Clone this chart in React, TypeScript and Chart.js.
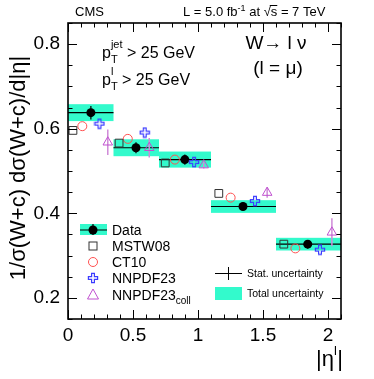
import React, { useEffect, useRef } from "react";
import { Chart, registerables } from "chart.js";

Chart.register(...registerables);

// ---- data ----
const binLow = [0, 0.35, 0.7, 1.1, 1.6];
const binHigh = [0.35, 0.7, 1.1, 1.6, 2.1];
const dataEta = [0.176, 0.523, 0.899, 1.346, 1.844];
const dataVal = [0.638, 0.555, 0.527, 0.416, 0.327];
const statErr = [0.016, 0.013, 0.012, 0.010, 0.010];
const totErr = [0.020, 0.020, 0.019, 0.015, 0.015];

const mstwEta = [0.038, 0.393, 0.748, 1.16, 1.66];
const mstwVal = [0.596, 0.566, 0.519, 0.447, 0.327];
const ct10Eta = [0.11, 0.46, 0.822, 1.251, 1.749];
const ct10Val = [0.606, 0.576, 0.527, 0.437, 0.317];
const nnpdfEta = [0.242, 0.59, 0.97, 1.438, 1.938];
const nnpdfVal = [0.612, 0.591, 0.521, 0.429, 0.314];
const collEta = [0.306, 0.625, 1.044, 1.532, 2.03];
const collVal = [0.568, 0.555, 0.514, 0.449, 0.355];
const collErr = [0.030, 0.023, 0.008, 0.012, 0.033];

const xTicks = [0, 0.5, 1, 1.5, 2];
const yTicks = [0.2, 0.4, 0.6, 0.8];
const xRange = [0, 2.1];
const yRange = [0.15, 0.85];

// ---- styles ----
const BOX = "rgb(51,250,204)";
const RED = "#ff5050";
const BLUE = "#3c3cff";
const MAG = "#c050d0";
const MAG_ERR = "#cf8ad8";
const GRAY = "#333333";
const FONT = "'Liberation Sans', Arial, Helvetica, sans-serif";

const PA = 1.4, PB = 4.6;

function plusPath(g: CanvasRenderingContext2D, cx: number, cy: number) {
  const a = PA, b = PB;
  g.beginPath();
  g.moveTo(cx - a, cy - b);
  g.lineTo(cx + a, cy - b);
  g.lineTo(cx + a, cy - a);
  g.lineTo(cx + b, cy - a);
  g.lineTo(cx + b, cy + a);
  g.lineTo(cx + a, cy + a);
  g.lineTo(cx + a, cy + b);
  g.lineTo(cx - a, cy + b);
  g.lineTo(cx - a, cy + a);
  g.lineTo(cx - b, cy + a);
  g.lineTo(cx - b, cy - a);
  g.lineTo(cx - a, cy - a);
  g.closePath();
}

function makePlus(color: string): HTMLCanvasElement {
  const c = document.createElement("canvas");
  c.width = 12;
  c.height = 12;
  const g = c.getContext("2d")!;
  g.strokeStyle = color;
  g.lineWidth = 1.2;
  plusPath(g, 6, 6);
  g.stroke();
  return c;
}

function drawPlus(ctx: CanvasRenderingContext2D, cx: number, cy: number, color: string) {
  ctx.save();
  ctx.strokeStyle = color;
  ctx.lineWidth = 1.2;
  plusPath(ctx, cx, cy);
  ctx.stroke();
  ctx.restore();
}

const hepPlugin = {
  id: "hep",
  beforeDatasetsDraw(chart: any) {
    const { ctx, chartArea: a, scales } = chart;
    const x = scales.x, y = scales.y;
    ctx.save();
    ctx.beginPath();
    ctx.rect(a.left, a.top, a.right - a.left, a.bottom - a.top);
    ctx.clip();
    // total uncertainty boxes
    ctx.fillStyle = BOX;
    for (let i = 0; i < binLow.length; i++) {
      const x0 = x.getPixelForValue(binLow[i]);
      const x1 = x.getPixelForValue(binHigh[i]);
      const y0 = y.getPixelForValue(dataVal[i] + totErr[i]);
      const y1 = y.getPixelForValue(dataVal[i] - totErr[i]);
      ctx.fillRect(x0, y0, x1 - x0, y1 - y0);
    }
    // horizontal bin lines + stat errors
    ctx.strokeStyle = "#000";
    ctx.lineWidth = 1.2;
    for (let i = 0; i < binLow.length; i++) {
      const x0 = x.getPixelForValue(binLow[i]);
      const x1 = x.getPixelForValue(binHigh[i]);
      const yv = y.getPixelForValue(dataVal[i]);
      ctx.beginPath();
      ctx.moveTo(x0, yv);
      ctx.lineTo(x1, yv);
      ctx.stroke();
      const xp = x.getPixelForValue(dataEta[i]);
      ctx.beginPath();
      ctx.moveTo(xp, y.getPixelForValue(dataVal[i] + statErr[i]));
      ctx.lineTo(xp, y.getPixelForValue(dataVal[i] - statErr[i]));
      ctx.stroke();
    }
    // NNPDF23coll error bars
    ctx.strokeStyle = MAG_ERR;
    ctx.lineWidth = 1.5;
    for (let i = 0; i < collEta.length; i++) {
      const xp = x.getPixelForValue(collEta[i]);
      ctx.beginPath();
      ctx.moveTo(xp, y.getPixelForValue(collVal[i] + collErr[i]));
      ctx.lineTo(xp, y.getPixelForValue(collVal[i] - collErr[i]));
      ctx.stroke();
    }
    ctx.restore();
  },
  afterDatasetsDraw(chart: any) {
    const { ctx, chartArea: a, scales } = chart;
    const x = scales.x, y = scales.y;
    ctx.save();
    // ticks
    ctx.strokeStyle = "#000";
    ctx.lineWidth = 1;
    const major = 9, minor = 4.5;
    for (let k = 0; k <= 21; k++) {
      const v = k * 0.1;
      const isMajor = k % 5 === 0;
      const len = isMajor ? major : minor;
      const px = Math.round(x.getPixelForValue(v)) + 0.5;
      ctx.beginPath();
      ctx.moveTo(px, a.bottom);
      ctx.lineTo(px, a.bottom - len);
      ctx.moveTo(px, a.top);
      ctx.lineTo(px, a.top + len);
      ctx.stroke();
    }
    for (let k = 3; k <= 17; k++) {
      const v = k * 0.05;
      const isMajor = k % 4 === 0;
      const len = isMajor ? major : minor;
      const py = Math.round(y.getPixelForValue(v)) + 0.5;
      ctx.beginPath();
      ctx.moveTo(a.left, py);
      ctx.lineTo(a.left + len, py);
      ctx.moveTo(a.right, py);
      ctx.lineTo(a.right - len, py);
      ctx.stroke();
    }
    // frame
    ctx.lineWidth = 1.6;
    ctx.strokeRect(a.left, a.top, a.right - a.left, a.bottom - a.top);

    ctx.fillStyle = "#000";
    ctx.textBaseline = "alphabetic";
    ctx.textAlign = "left";

    // header
    ctx.font = `13px ${FONT}`;
    ctx.fillText("CMS", 75, 16);
    let cx = 183;
    const base = 16;
    const t1 = "L = 5.0 fb";
    ctx.fillText(t1, cx, base);
    cx += ctx.measureText(t1).width;
    ctx.font = `9px ${FONT}`;
    ctx.fillText("-1", cx, base - 5);
    cx += ctx.measureText("-1").width;
    ctx.font = `13px ${FONT}`;
    const t2 = " at ";
    ctx.fillText(t2, cx, base);
    cx += ctx.measureText(t2).width;
    ctx.fillText("\u221A", cx, base);
    cx += ctx.measureText("\u221A").width;
    const sW = ctx.measureText("s").width;
    ctx.fillText("s", cx, base);
    ctx.lineWidth = 1;
    ctx.beginPath();
    ctx.moveTo(cx - 1, base - 10.5);
    ctx.lineTo(cx + sW, base - 10.5);
    ctx.stroke();
    cx += sW;
    ctx.fillText(" = 7 TeV", cx, base);

    // p_T^jet > 25 GeV
    const drawPt = (sup: string, bx: number, by: number) => {
      ctx.font = `16px ${FONT}`;
      ctx.fillText("p", bx, by);
      let xx = bx + ctx.measureText("p").width;
      ctx.font = `11px ${FONT}`;
      ctx.fillText("T", xx, by + 5);
      ctx.fillText(sup, xx, by - 10);
      xx += Math.max(ctx.measureText("T").width, ctx.measureText(sup).width);
      ctx.font = `16px ${FONT}`;
      ctx.fillText(" > 25 GeV", xx, by);
    };
    drawPt("jet", 102, 58);
    drawPt("l", 102, 85);

    // W -> l nu
    ctx.font = `19px ${FONT}`;
    ctx.textAlign = "center";
    ctx.fillText("W\u2192 l \u03BD", 276, 49);
    ctx.fillText("(l = \u03BC)", 278, 74);

    // Y title
    ctx.save();
    ctx.translate(19, 168);
    ctx.rotate(-Math.PI / 2);
    ctx.font = `22px ${FONT}`;
    ctx.textAlign = "center";
    ctx.textBaseline = "middle";
    ctx.fillText("1/\u03C3(W+c) d\u03C3(W+c)/d|\u03B7|", 0, 0);
    ctx.restore();

    // X title |eta^l|
    ctx.textAlign = "left";
    ctx.font = `22px ${FONT}`;
    let xx = 316;
    ctx.fillText("|\u03B7", xx, 366);
    xx += ctx.measureText("|\u03B7").width;
    ctx.font = `13px ${FONT}`;
    ctx.fillText("l", xx, 355);
    xx += ctx.measureText("l").width + 0.5;
    ctx.font = `22px ${FONT}`;
    ctx.fillText("|", xx, 366);

    // legend
    const lx = 93;
    const rows = [230, 246, 262, 278, 295];
    ctx.fillStyle = BOX;
    ctx.fillRect(80, rows[0] - 6, 27, 11);
    ctx.strokeStyle = "#000";
    ctx.lineWidth = 1.2;
    ctx.beginPath();
    ctx.moveTo(80, rows[0]);
    ctx.lineTo(107, rows[0]);
    ctx.moveTo(lx, rows[0] - 6);
    ctx.lineTo(lx, rows[0] + 5);
    ctx.stroke();
    ctx.fillStyle = "#000";
    ctx.beginPath();
    ctx.arc(lx, rows[0], 4.5, 0, Math.PI * 2);
    ctx.fill();
    ctx.strokeStyle = GRAY;
    ctx.lineWidth = 1;
    ctx.strokeRect(lx - 4, rows[1] - 4, 8, 8);
    ctx.strokeStyle = RED;
    ctx.beginPath();
    ctx.arc(lx, rows[2], 4.5, 0, Math.PI * 2);
    ctx.stroke();
    drawPlus(ctx, lx, rows[3], BLUE);
    ctx.strokeStyle = MAG;
    ctx.beginPath();
    ctx.moveTo(lx, rows[4] - 6);
    ctx.lineTo(lx + 5.5, rows[4] + 4);
    ctx.lineTo(lx - 5.5, rows[4] + 4);
    ctx.closePath();
    ctx.stroke();

    ctx.fillStyle = "#000";
    ctx.font = `14px ${FONT}`;
    ctx.textBaseline = "middle";
    const labels = ["Data", "MSTW08", "CT10", "NNPDF23", "NNPDF23"];
    labels.forEach((t, i) => ctx.fillText(t, 112, rows[i] + 1));
    const w23 = ctx.measureText("NNPDF23").width;
    ctx.font = `10px ${FONT}`;
    ctx.fillText("coll", 112 + w23, rows[4] + 6);

    // stat / total legend
    ctx.strokeStyle = "#000";
    ctx.lineWidth = 1;
    ctx.beginPath();
    ctx.moveTo(215, 273.5);
    ctx.lineTo(242, 273.5);
    ctx.moveTo(228.5, 267);
    ctx.lineTo(228.5, 280);
    ctx.stroke();
    ctx.fillStyle = BOX;
    ctx.fillRect(215, 287, 27, 13);
    ctx.fillStyle = "#000";
    ctx.font = `10.5px ${FONT}`;
    ctx.fillText("Stat. uncertainty", 247, 274);
    ctx.fillText("Total uncertainty", 247, 294);
    ctx.restore();
  },
};

export default function App() {
  const ref = useRef<HTMLCanvasElement | null>(null);
  useEffect(() => {
    document.body.style.margin = "0";
    const canvas = ref.current!;
    const pts = (xs: number[], ys: number[]) => xs.map((v, i) => ({ x: v, y: ys[i] }));
    const chart = new Chart(canvas, {
      type: "scatter",
      data: {
        datasets: [
          {
            label: "MSTW08",
            data: pts(mstwEta, mstwVal),
            pointStyle: "rect",
            pointRadius: 5.5,
            borderColor: GRAY,
            backgroundColor: "rgba(0,0,0,0)",
            borderWidth: 1,
          },
          {
            label: "CT10",
            data: pts(ct10Eta, ct10Val),
            pointStyle: "circle",
            pointRadius: 4.5,
            borderColor: RED,
            backgroundColor: "rgba(0,0,0,0)",
            borderWidth: 1,
          },
          {
            label: "NNPDF23",
            data: pts(nnpdfEta, nnpdfVal),
            pointStyle: makePlus(BLUE),
            pointRadius: 6,
            borderColor: BLUE,
            backgroundColor: "rgba(0,0,0,0)",
          },
          {
            label: "NNPDF23coll",
            data: pts(collEta, collVal),
            pointStyle: "triangle",
            pointRadius: 5.5,
            borderColor: MAG,
            backgroundColor: "rgba(0,0,0,0)",
            borderWidth: 1,
          },
          {
            label: "Data",
            data: pts(dataEta, dataVal),
            pointStyle: "circle",
            pointRadius: 4.5,
            borderColor: "#000",
            backgroundColor: "#000",
            borderWidth: 0,
          },
        ],
      },
      options: {
        responsive: false,
        animation: false,
        events: [],
        layout: { padding: { left: 0, right: 33, top: 23, bottom: 0 } },
        plugins: { legend: { display: false }, tooltip: { enabled: false } },
        scales: {
          x: {
            type: "linear",
            min: xRange[0],
            max: xRange[1],
            grid: { display: false, drawTicks: false },
            border: { display: false },
            afterBuildTicks: (s: any) => {
              s.ticks = xTicks.map((v) => ({ value: v }));
            },
            afterFit: (s: any) => {
              s.height = 60;
            },
            ticks: {
              autoSkip: false,
              maxRotation: 0,
              padding: 5,
              color: "#000",
              font: { family: FONT, size: 19 },
              callback: (v: any) => String(v),
            },
          },
          y: {
            type: "linear",
            min: yRange[0],
            max: yRange[1],
            grid: { display: false, drawTicks: false },
            border: { display: false },
            afterBuildTicks: (s: any) => {
              s.ticks = yTicks.map((v) => ({ value: v }));
            },
            afterFit: (s: any) => {
              s.width = 68;
            },
            ticks: {
              padding: 8,
              color: "#000",
              font: { family: FONT, size: 19 },
              callback: (v: any) => Number(v).toFixed(1),
            },
          },
        },
      },
      plugins: [hepPlugin],
    });
    return () => chart.destroy();
  }, []);
  return (
    <div style={{ position: "absolute", left: 0, top: 0, width: 374, height: 379, background: "#fff" }}>
      <canvas ref={ref} width={374} height={379} style={{ display: "block", width: 374, height: 379 }} />
    </div>
  );
}
